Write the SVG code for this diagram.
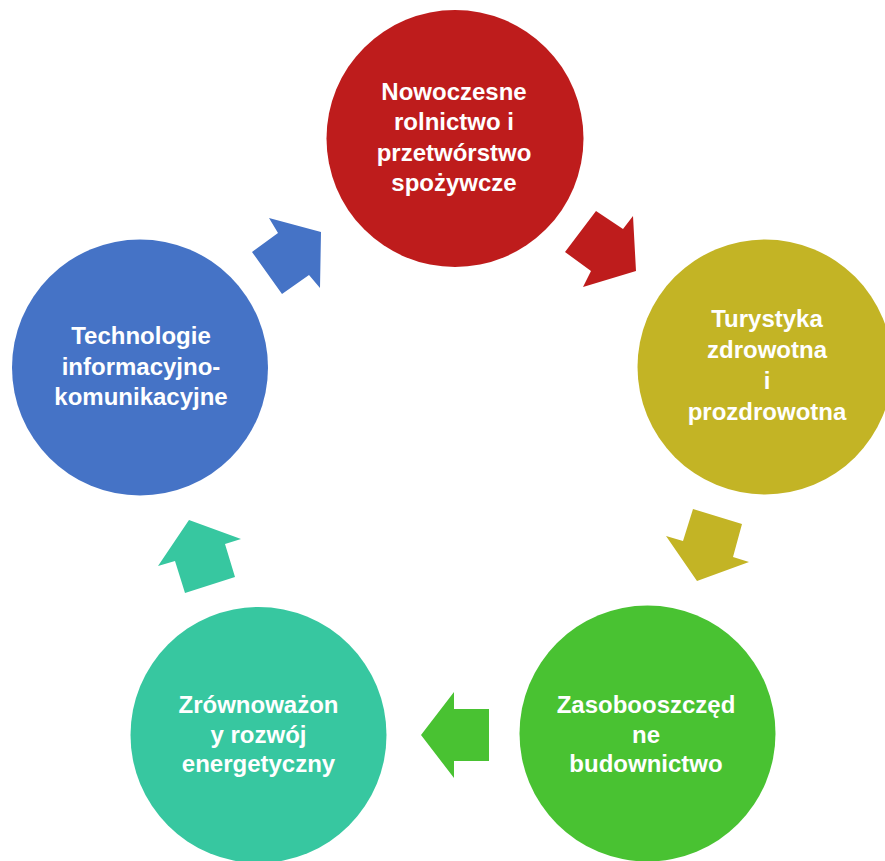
<svg xmlns="http://www.w3.org/2000/svg" width="885" height="861" viewBox="0 0 885 861">
<style>
text{font-family:"Liberation Sans",Arial,sans-serif;font-weight:bold;font-size:24px;fill:#fff;text-anchor:middle}
</style>
<rect width="885" height="861" fill="#fff"/>
<g id="connectors">
<polygon fill="#BE1C1C" points="565,252 596,211 623,229 633,216 636,271 583,287 591,271"/>
<polygon fill="#C3B425" points="693,509 742,524 733,557 749,562 697,581 666,536 683,541"/>
<polygon fill="#49C232" points="421,735 454,692 454,709 489,709 489,761 454,761 454,778"/>
<polygon fill="#37C7A0" points="189,520 241,539 225,544 235,577 185,593 175,561 158,566"/>
<polygon fill="#4573C6" points="269,218 321,232 320,288 309,275 282,294 252,252 278,233"/>
</g>
<g id="node-rolnictwo">
<circle cx="455" cy="138.5" r="128.5" fill="#BE1C1C"/>
<text x="454" y="99.5">Nowoczesne</text>
<text x="454" y="130">rolnictwo i</text>
<text x="454" y="160.5">przetwórstwo</text>
<text x="454" y="191">spożywcze</text>
</g>
<g id="node-turystyka">
<circle cx="765" cy="367" r="127.5" fill="#C3B425"/>
<text x="767" y="327">Turystyka</text>
<text x="767" y="358">zdrowotna</text>
<text x="767" y="389">i</text>
<text x="767" y="420">prozdrowotna</text>
</g>
<g id="node-budownictwo">
<circle cx="647.5" cy="733.5" r="128" fill="#49C232"/>
<text x="646" y="713">Zasobooszczęd</text>
<text x="646" y="743">ne</text>
<text x="646" y="772">budownictwo</text>
</g>
<g id="node-energetyka">
<circle cx="258.5" cy="735" r="128" fill="#37C7A0"/>
<text x="258.5" y="713">Zrównoważon</text>
<text x="258.5" y="743">y rozwój</text>
<text x="258.5" y="772">energetyczny</text>
</g>
<g id="node-tik">
<circle cx="140" cy="367.5" r="128" fill="#4573C6"/>
<text x="141" y="343.5">Technologie</text>
<text x="141" y="374.5">informacyjno-</text>
<text x="141" y="404.5">komunikacyjne</text>
</g>
</svg>
